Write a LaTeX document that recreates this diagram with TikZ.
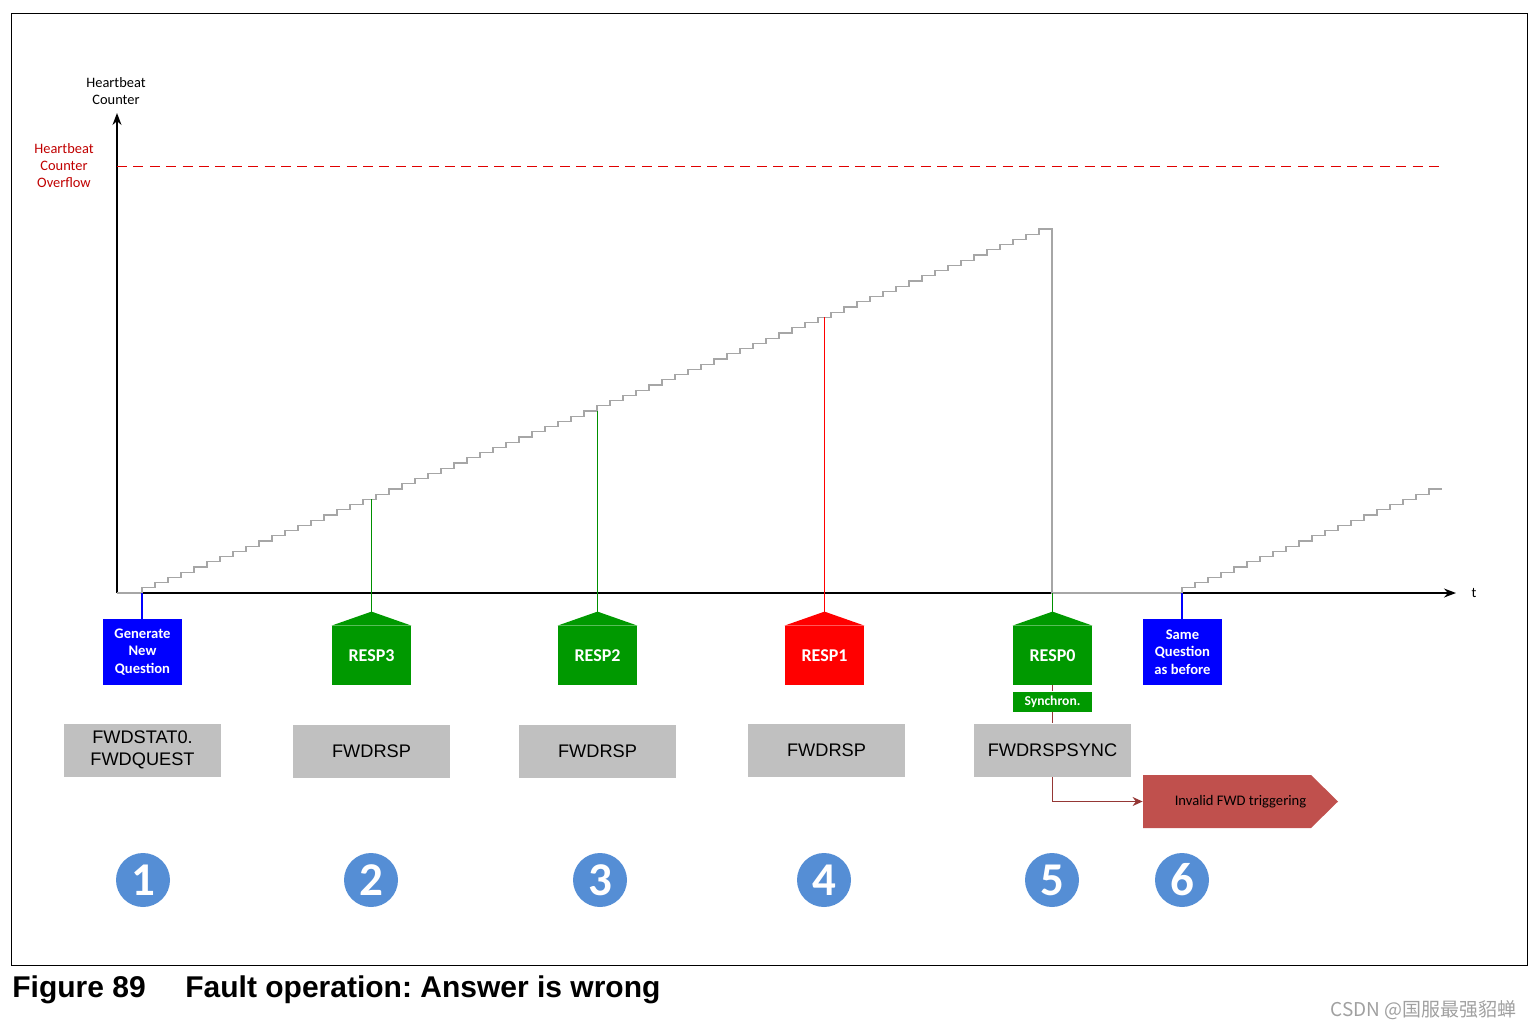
\documentclass[tikz,border=0pt]{standalone}
\usepackage{fontspec}
\setmainfont{Carlito}
\newfontfamily\arialfont{Liberation Sans}
\newfontfamily\cjkfont{Noto Sans CJK SC}
\usepackage{xcolor}
\usetikzlibrary{arrows.meta, positioning}
\definecolor{qblue}{HTML}{0000FF}
\definecolor{respgreen}{HTML}{009900}
\definecolor{respred}{HTML}{FF0000}
\definecolor{reggrey}{HTML}{C0C0C0}
\definecolor{numblue}{HTML}{558ED5}
\definecolor{trigred}{HTML}{C0504D}
\definecolor{linkbrown}{HTML}{953735}
\definecolor{ovred}{HTML}{C00000}
\definecolor{dashred}{HTML}{E00000}
\definecolor{stepgrey}{HTML}{A6A6A6}
\definecolor{linegreen}{HTML}{009000}
\definecolor{markgrey}{HTML}{A0A0A0}
\frenchspacing

\begin{document}
\begin{tikzpicture}[x=0.5pt, y=-0.5pt,
    axis/.style={line width=0.75pt, -{Stealth[length=6pt, width=4.5pt]}},
    stair/.style={stepgrey, line width=0.6pt},
    lbl/.style={align=center, inner sep=0pt, font=\fontsize{7.2}{8.5}\selectfont},
    qbox/.style={fill=qblue, text=white, align=center, minimum width=39.5pt, minimum height=33pt, inner sep=0pt, font=\bfseries\fontsize{7.3}{8.8}\selectfont},
    resp/.style={text=white, minimum width=39.5pt, minimum height=29.5pt, inner sep=0pt, font=\bfseries\fontsize{9}{10}\selectfont},
    sync/.style={fill=respgreen, text=white, minimum width=39.5pt, minimum height=10pt, inner sep=0pt, font=\bfseries\fontsize{6.8}{7}\selectfont},
    reg/.style={fill=reggrey, align=center, minimum width=78.5pt, minimum height=26.5pt, inner sep=0pt, font=\arialfont\fontsize{9.1}{11}\selectfont},
    num/.style={circle, fill=numblue, text=white, minimum size=27pt, inner sep=0pt, font=\bfseries\fontsize{23.5}{24}\selectfont},
    trig/.style={minimum width=97.5pt, minimum height=26.5pt, inner sep=0pt, font=\fontsize{7.3}{8}\selectfont,
        path picture={\fill[trigred] (path picture bounding box.north west) -- ([xshift=-13.5pt]path picture bounding box.north east) -- (path picture bounding box.east) -- ([xshift=-13.5pt]path picture bounding box.south east) -- (path picture bounding box.south west) -- cycle;}},
    link/.style={line width=0.6pt}
]
    \useasboundingbox (0,0) rectangle (1533,1029);
    \draw[line width=0.5pt] (11,13) rectangle (1527,965);

    \coordinate (origin) at (117,593);
    \coordinate (yend) at (117,113);
    \coordinate (xend) at (1456,593);
    \coordinate (ov0) at (117,166);
    \coordinate (ov1) at (1443,166);
    \coordinate (q1) at (142,593);
    \coordinate (q2) at (1182,593);
    \coordinate (hit3) at (371.5,499.4);
    \coordinate (hit2) at (597.5,411);
    \coordinate (hit1) at (824.5,317.4);
    \coordinate (hit0) at (1052.5,593);

    \draw[axis] (origin) -- (yend);
    \draw[axis] (origin) -- (xend);
    \draw[dashred, line width=0.5pt, dash pattern=on 5pt off 3.2pt] (ov0) -- (ov1);
    \node[lbl] (ylabel) at (116,91) {Heartbeat\\Counter};
    \node[lbl, text=ovred] (ovlabel) at (64,166) {Heartbeat\\Counter\\Overflow};
    \node[lbl] (tlabel) at (1474,593) {t};

    \draw[stair] (origin) -- (q1) \foreach \i in {1,...,70} { -- ++(0,-5.2) -- ++(13,0) } -- (1052,593) -- (q2) \foreach \i in {1,...,20} { -- ++(0,-5.2) -- ++(13,0) };

    \node[qbox] (genq) at (142.5,652) {Generate\\New\\Question};
    \node[qbox] (sameq) at (1182.5,652) {Same\\Question\\as before};
    \foreach \x/\n/\c in {371.5/3/respgreen, 597.5/2/respgreen, 824.5/1/respred, 1052.5/0/respgreen} {
        \node[resp, fill=\c] (resp\n) at (\x,655.5) {RESP\n};
        \fill[\c] (resp\n.north west) -- ([yshift=7pt]resp\n.north) coordinate (roof\n) -- (resp\n.north east) -- cycle;
    }
    \node[sync, below=3pt of resp0] (syncbox) {Synchron.};

    \node[reg, below=19pt of genq] (stat) {FWDSTAT0.\\FWDQUEST};
    \node[reg, below=19.5pt of resp3] (rsp3) {FWDRSP};
    \node[reg, below=19.5pt of resp2] (rsp2) {FWDRSP};
    \node[reg, below=19pt of resp1, xshift=1pt] (rsp1) {FWDRSP};
    \node[reg, below=5.5pt of syncbox] (rspsync) {FWDRSPSYNC};
    \node[trig] (fwdtrig) at (1240.5,801.5) {Invalid FWD triggering};

    \foreach \x/\n in {143/1, 371/2, 600/3, 824/4, 1052/5, 1182/6}
        \node[num] (num\n) at (\x,880) {\n};

    \draw[qblue, link] (q1) -- (q1 |- genq.north);
    \draw[qblue, link] (q2) -- (q2 |- sameq.north);
    \draw[linegreen, link] (hit3) -- (roof3);
    \draw[linegreen, link] (hit2) -- (roof2);
    \draw[respred, link] (hit1) -- (roof1);
    \draw[linegreen, link] (hit0) -- (roof0);
    \draw[linkbrown, link] (resp0) -- (syncbox);
    \draw[linkbrown, link] (syncbox) -- (rspsync);
    \draw[linkbrown, link, -{Stealth[length=5pt, width=4.5pt]}] (rspsync.south) |- (fwdtrig.west);

    \node[anchor=base west, inner sep=0pt, font=\arialfont\bfseries\fontsize{15}{18}\selectfont] (fignum) at (12,997) {Figure 89};
    \node[anchor=base west, inner sep=0pt, font=\arialfont\bfseries\fontsize{15}{18}\selectfont] (figtitle) at (185,997) {Fault operation: Answer is wrong};
    \node[anchor=east, inner sep=0pt, text=markgrey, font=\cjkfont\fontsize{9.5}{11}\selectfont] (mark) at (1517,1010) {CSDN @国服最强貂蝉};
\end{tikzpicture}
\end{document}
